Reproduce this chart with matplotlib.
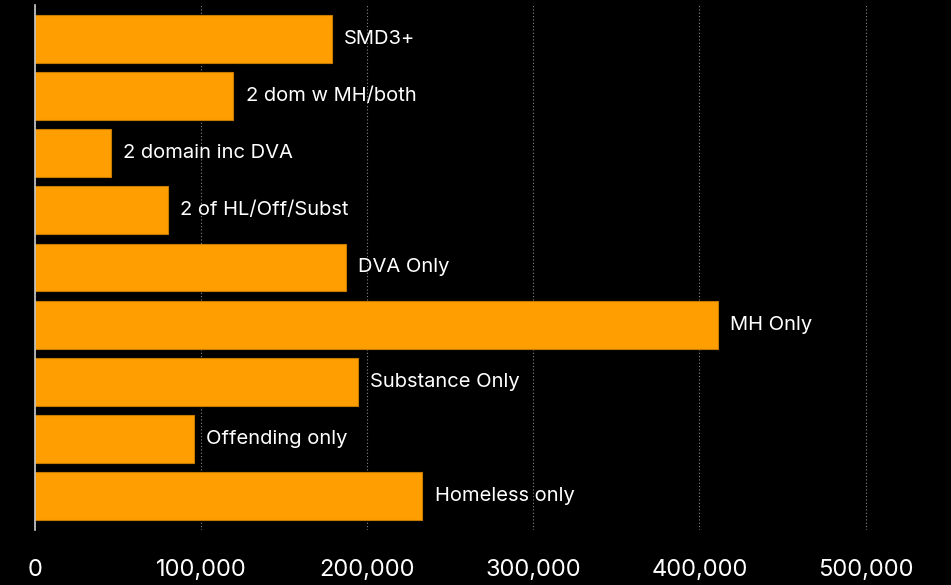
import matplotlib
matplotlib.use("Agg")
import matplotlib.pyplot as plt
from matplotlib.ticker import FuncFormatter

categories = ["SMD3+", "2 dom w MH/both", "2 domain inc DVA", "2 of HL/Off/Subst",
              "DVA Only", "MH Only", "Substance Only", "Offending only", "Homeless only"]
values = [178400, 119200, 45500, 79600, 187000, 411000, 194000, 95300, 233000]
ticks = [0, 100000, 200000, 300000, 400000, 500000]

plt.rcParams['font.family'] = ['Inter', 'DejaVu Sans']

fig = plt.figure(figsize=(9.51, 5.85), dpi=100, facecolor="black")
ax = fig.add_axes([0.0373, 0.094, 0.9627, 0.8975], facecolor="black")

y = list(range(len(categories)))
ax.barh(y, values, height=0.84, color="#FF9E00", edgecolor="#C77A00", linewidth=0.8, zorder=2)
for yi, v, name in zip(y, values, categories):
    ax.text(v + 7500, yi, name, va="center", ha="left", color="white", fontsize=14.5)

ax.set_ylim(8.6, -0.6)
ax.set_xlim(0, 551500)
ax.set_xticks(ticks)
ax.xaxis.set_major_formatter(FuncFormatter(lambda x, p: f"{int(x):,}"))
ax.tick_params(axis="x", colors="white", labelsize=17, length=0, pad=21)
ax.set_yticks([])
ax.grid(axis="x", color="#888888", linestyle=(0, (1, 2)), linewidth=0.8, zorder=0)
for s in ["top", "right", "bottom"]:
    ax.spines[s].set_visible(False)
ax.spines["left"].set_color("#cccccc")
ax.spines["left"].set_linewidth(1.2)
ax.spines["left"].set_zorder(3)

fig.savefig("out.png", dpi=100, facecolor="black")
